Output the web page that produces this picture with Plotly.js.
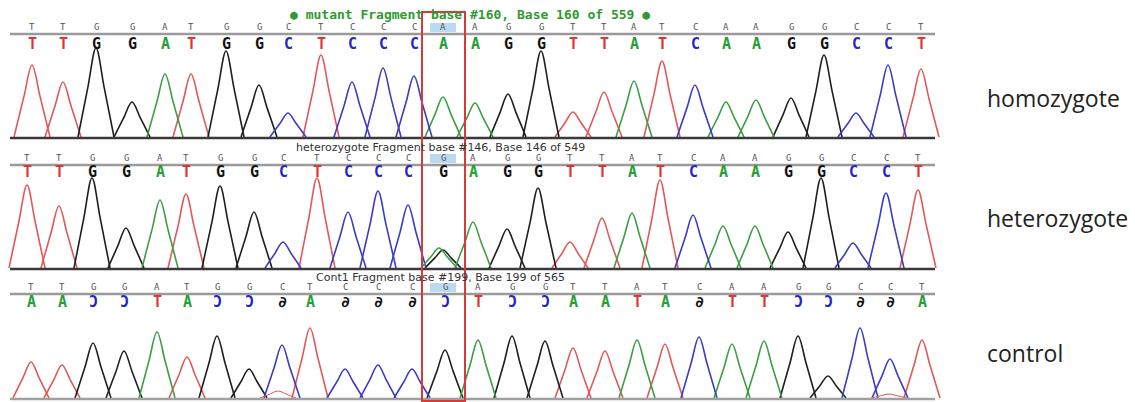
<!DOCTYPE html>
<html>
<head>
<meta charset="utf-8">
<script src="https://cdn.plot.ly/plotly-3.0.1.min.js"></script>
<style>html,body{margin:0;padding:0;background:#fff;}#chart{width:1135px;height:402px;}</style>
</head>
<body>
<div id="chart"></div>
<script>
// ---------- DATA ----------
// reference sequence printed above each trace (small grey letters)
const refHomo = ["T","T","G","G","A","T","G","G","C","T","C","C","C","A","A","G","G","T","T","A","T","C","A","A","G","G","C","C","T"];
const refHet  = ["T","T","G","G","A","T","G","G","C","T","C","C","C","G","A","G","G","T","T","A","T","C","A","A","G","G","C","C","T"];
const refCtrl = ["T","T","G","G","A","T","G","G","C","T","C","C","C","G","A","G","G","T","T","A","T","C","A","A","G","G","C","C","T"];

// base calls (coloured letters)
const callHomo = ["T","T","G","G","A","T","G","G","C","T","C","C","C","A","A","G","G","T","T","A","T","C","A","A","G","G","C","C","T"];
const callHet  = ["T","T","G","G","A","T","G","G","C","T","C","C","C","G","A","G","G","T","T","A","T","C","A","A","G","G","C","C","T"];
const callCtrl = ["A","A","Ɔ","Ɔ","T","A","Ɔ","Ɔ","∂","A","∂","∂","∂","Ɔ","T","Ɔ","Ɔ","A","A","T","A","∂","T","T","Ɔ","Ɔ","∂","∂","A"];

// peak positions (scan units) and heights
const posHomo = [32,63,96,132,165,191,226,259,288,321,352,383,414,443,475,508,541,573,604,634,662,695,726,756,791,824,856,888,921];
const hHomo   = [72,55,89,35,63,63,86,52,24,82,55,69,61,40,34,43,86,25,45,56,76,52,35,37,39,82,24,72,68];

const posHet = [27,59,92,126,160,186,220,254,283,317,348,378,408,443,473,507,538,570,602,632,660,693,723,755,788,821,853,886,918];
const hHet   = [83,62,90,40,68,74,82,56,26,90,56,77,63,18,46,39,80,26,50,55,88,53,42,42,36,90,25,75,78];
// secondary (overlapping) peak at the heterozygous site
const posHetSec  = [439];
const baseHetSec = ["A"];
const hHetSec    = [20];

const posCtrl = [31,62,93,124,157,187,217,249,282,310,345,378,412,445,478,512,545,573,605,637,665,699,732,764,798,828,860,890,922];
const hCtrl   = [36,33,55,47,66,41,62,29,53,70,29,33,29,48,58,62,57,50,47,58,54,61,54,57,62,22,70,39,58];
// small noise bumps under the control trace
const posCtrlSmall  = [278, 889];
const baseCtrlSmall = ["T","T"];
const hCtrlSmall    = [7, 4];

const panelLabels = ["homozygote","heterozygote","control"];
const panelTitles = [
  "● mutant Fragment base #160, Base 160 of 559 ●",
  "heterozygote Fragment base #146, Base 146 of 549",
  "Cont1 Fragment base #199, Base 199 of 565"
];

// ---------- STYLE ----------
const W = 1135, H = 402;
const traceColor = {A:"#3c9e44", C:"#3b3bc4", G:"#1e1e1e", T:"#e0585a"};
const callColor  = {A:"#22a032", C:"#2424c8", G:"#111111", T:"#e03434", "Ɔ":"#2424c8", "∂":"#111111"};
const halfW = 18;
// pixel geometry of the three panels
const panels = [
  {base:137, refY:27,  lineY:34,  callY:44,  titleY:15,  labelY:98,  titleX:470, baseColor:"#3a3a3a"},
  {base:268, refY:158, lineY:165, callY:172, titleY:147, labelY:218, titleX:440, baseColor:"#3a3a3a"},
  {base:398, refY:287, lineY:294, callY:302, titleY:277, labelY:353, titleX:440, baseColor:"#a0a0a0"}
];
const py = v => 1 - v / H;

function peakTraces(pos, bases, hts, axisIdx, lw) {
  const groups = {};
  for (let i = 0; i < pos.length; i++) {
    const b = bases[i];
    if (!groups[b]) groups[b] = {x: [], y: []};
    const p = pos[i], h = hts[i];
    groups[b].x.push(p - halfW, p - 0.45 * halfW, p, p + 0.45 * halfW, p + halfW, null);
    groups[b].y.push(0, 0.56 * h, h, 0.56 * h, 0, null);
  }
  return Object.keys(groups).map(b => ({
    type: "scatter", mode: "lines", x: groups[b].x, y: groups[b].y,
    xaxis: "x", yaxis: axisIdx === 1 ? "y" : "y" + axisIdx,
    line: {color: traceColor[b], width: lw || 1.6, shape: "spline", smoothing: 1},
    connectgaps: false, hoverinfo: "skip", showlegend: false
  }));
}

const traces = [
  ...peakTraces(posHomo, refHomo, hHomo, 1),
  ...peakTraces(posHet, refHet, hHet, 2),
  ...peakTraces(posHetSec, baseHetSec, hHetSec, 2),
  ...peakTraces(posCtrl, refCtrl, hCtrl, 3),
  ...peakTraces(posCtrlSmall, baseCtrlSmall, hCtrlSmall, 3, 1)
];

const annotations = [];
const shapes = [];
const refs = [refHomo, refHet, refCtrl];
const calls = [callHomo, callHet, callCtrl];
const poss = [posHomo, posHet, posCtrl];

panels.forEach((pn, k) => {
  // highlight behind the selected base
  shapes.push({type:"rect", xref:"x", yref:"paper", x0:430, x1:456, y0:py(pn.refY+5), y1:py(pn.refY-4),
    fillcolor:"#bcd9f2", line:{width:0}, layer:"below"});
  // grey line under reference letters
  shapes.push({type:"line", xref:"x", yref:"paper", x0:10, x1:935, y0:py(pn.lineY), y1:py(pn.lineY),
    line:{color:"#9a9a9a", width:2.5}});
  // baseline
  shapes.push({type:"line", xref:"x", yref:"paper", x0:10, x1:935, y0:py(pn.base+1), y1:py(pn.base+1),
    line:{color:pn.baseColor, width:2.5}});
  for (let i = 0; i < refs[k].length; i++) {
    annotations.push({xref:"x", yref:"paper", x:poss[k][i], y:py(pn.refY), text:refs[k][i], showarrow:false,
      xanchor:"center", yanchor:"middle", font:{family:"DejaVu Sans Mono", size:9, color:"#555"}});
    annotations.push({xref:"x", yref:"paper", x:poss[k][i], y:py(pn.callY), text:"<b>"+calls[k][i]+"</b>", showarrow:false,
      xanchor:"center", yanchor:"middle", font:{family:"DejaVu Sans Mono", size:15, color:callColor[calls[k][i]]}});
  }
  annotations.push({xref:"x", yref:"paper", x:pn.titleX, y:py(pn.titleY),
    text: k === 0 ? "<b>"+panelTitles[k]+"</b>" : panelTitles[k], showarrow:false, xanchor:"center", yanchor:"middle",
    font: k === 0 ? {family:"DejaVu Sans Mono", size:13, color:"#2f9a2f"} : {family:"DejaVu Sans", size:11, color:"#333"}});
  annotations.push({xref:"paper", yref:"paper", x:985/W, y:py(pn.labelY), text:panelLabels[k], showarrow:false,
    xanchor:"left", yanchor:"middle", font:{family:"Open Sans", size:23, color:"#222"}});
});

// red box around the variant position
shapes.push({type:"rect", xref:"x", yref:"paper", x0:422, x1:465, y0:py(401), y1:py(12),
  line:{color:"#d83a3a", width:2}, fillcolor:"rgba(0,0,0,0)", layer:"above"});

function yax(k) {
  const pn = panels[k];
  return {domain:[py(pn.base), py(pn.base - 100)], range:[0, 100], visible:false, fixedrange:true};
}

const layout = {
  width: W, height: H, margin:{l:0, r:0, t:0, b:0},
  paper_bgcolor:"#fff", plot_bgcolor:"rgba(0,0,0,0)",
  xaxis:{range:[0, W], visible:false, fixedrange:true},
  yaxis: yax(0), yaxis2: yax(1), yaxis3: yax(2),
  shapes: shapes, annotations: annotations, showlegend:false
};

Plotly.newPlot("chart", traces, layout, {staticPlot:true, displayModeBar:false});
</script>
</body>
</html>
